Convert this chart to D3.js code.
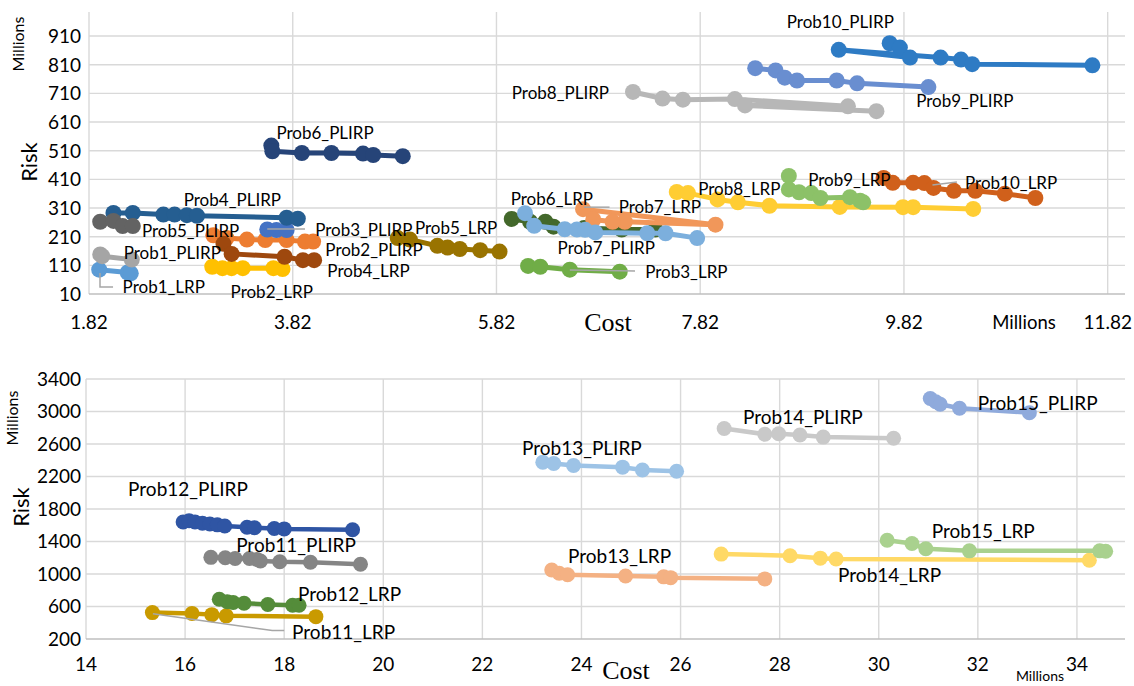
<!DOCTYPE html>
<html>
<head>
<meta charset="utf-8">
<script src="https://cdn.jsdelivr.net/npm/d3@7"></script>
<style>
  body { margin: 0; background: #fff; }
  svg { display: block; }
  text { font-family: Lato, "Liberation Sans", sans-serif; fill: #000; }
</style>
</head>
<body>
<svg id="chart" width="1134" height="686"></svg>
<script>
// ---------- top panel: (cost, risk) pairs, both in millions ----------
const prob1LRP    = [[1.92, 95], [2.20, 85], [2.23, 82]];
const prob1PLIRP  = [[1.93, 148], [1.95, 142], [2.24, 130]];
const prob2LRP    = [[3.03, 105], [3.13, 100], [3.22, 100], [3.33, 100], [3.63, 100], [3.72, 97]];
const prob2PLIRP  = [[3.04, 215], [3.17, 205], [3.37, 200], [3.55, 198], [3.76, 198], [3.94, 193], [4.02, 193]];
const prob3LRP    = [[6.13, 108], [6.25, 105], [6.54, 95], [7.03, 88]];
const prob3PLIRP  = [[3.57, 235], [3.66, 233], [3.76, 233]];
const prob4LRP    = [[3.14, 185], [3.22, 150], [3.74, 140], [3.92, 128], [4.03, 128]];
const prob4PLIRP  = [[2.06, 293], [2.25, 293], [2.55, 287], [2.66, 287], [2.78, 285], [2.88, 283], [3.76, 276], [3.87, 273]];
const prob5LRP    = [[4.85, 205], [4.97, 200], [5.24, 178], [5.34, 172], [5.46, 167], [5.66, 163], [5.85, 158]];
const prob5PLIRP  = [[1.93, 262], [2.06, 265], [2.15, 247], [2.25, 247]];
const prob6LRP    = [[5.97, 272], [6.15, 262], [6.30, 262], [6.38, 245], [6.68, 240], [7.05, 235], [7.38, 235]];
const prob6PLIRP  = [[3.61, 528], [3.62, 508], [3.91, 502], [4.20, 502], [4.51, 500], [4.61, 495], [4.90, 491]];
const prob7LRP    = [[6.67, 306], [7.97, 252], [7.08, 262], [6.96, 262], [6.77, 270]];
const prob7PLIRP  = [[6.10, 292], [6.19, 248], [6.49, 236], [6.61, 235], [6.69, 234], [6.79, 225], [7.30, 222], [7.48, 222], [7.79, 205]];
const prob8LRP    = [[7.59, 366], [7.70, 362], [7.99, 340], [8.19, 330], [8.50, 318], [9.19, 314], [9.81, 313], [9.91, 313], [10.50, 307]];
const prob8PLIRP  = [[7.16, 715], [7.45, 692], [7.65, 688], [8.16, 690], [9.27, 665], [8.26, 668], [9.55, 648]];
const prob9LRP    = [[8.69, 422], [8.69, 375], [8.79, 365], [8.91, 362], [9.00, 345], [9.29, 348], [9.39, 335], [9.42, 330]];
const prob9PLIRP  = [[8.36, 798], [8.56, 790], [8.65, 765], [8.77, 755], [9.16, 755], [9.36, 745], [10.06, 732]];
const prob10LRP   = [[9.62, 415], [9.71, 398], [9.91, 398], [10.02, 397], [10.11, 380], [10.31, 370], [10.52, 370], [10.81, 360], [11.11, 345]];
const prob10PLIRP = [[9.68, 885], [9.78, 870], [9.88, 835], [9.18, 862], [10.18, 835], [10.38, 828], [10.49, 812], [11.67, 808]];

// ---------- bottom panel ----------
const prob11LRP   = [[15.34, 525], [16.14, 515], [16.54, 500], [16.83, 485], [18.64, 475]];
const prob11PLIRP = [[16.52, 1205], [16.81, 1200], [17.01, 1190], [17.30, 1190], [17.45, 1180], [17.52, 1160], [17.91, 1150], [18.53, 1145], [19.54, 1120]];
const prob12LRP   = [[16.69, 690], [16.85, 660], [16.97, 650], [17.19, 640], [17.67, 625], [18.17, 615], [18.30, 615]];
const prob12PLIRP = [[15.96, 1640], [16.08, 1655], [16.20, 1640], [16.35, 1625], [16.50, 1615], [16.65, 1605], [16.80, 1590], [17.25, 1575], [17.40, 1570], [17.80, 1560], [18.00, 1555], [19.38, 1545]];
const prob13LRP   = [[23.40, 1050], [23.55, 1010], [23.72, 990], [24.89, 975], [25.66, 965], [25.80, 955], [27.70, 940]];
const prob13PLIRP = [[23.22, 2375], [23.44, 2360], [23.84, 2335], [24.83, 2315], [25.23, 2280], [25.92, 2265]];
const prob14LRP   = [[26.82, 1245], [28.21, 1225], [28.82, 1195], [29.14, 1185], [34.25, 1170]];
const prob14PLIRP = [[26.88, 2790], [27.70, 2720], [27.98, 2727], [28.41, 2711], [28.88, 2685], [30.30, 2670]];
const prob15LRP   = [[30.17, 1415], [30.67, 1375], [30.95, 1310], [31.83, 1285], [34.46, 1285], [34.58, 1280]];
const prob15PLIRP = [[31.04, 3160], [31.15, 3120], [31.24, 3090], [31.63, 3040], [33.04, 2985]];

// tick values
const topXTicks = [1.82, 3.82, 5.82, 7.82, 9.82, 11.82];
const topYTicks = [10, 110, 210, 310, 410, 510, 610, 710, 810, 910];
const botXTicks = [14, 16, 18, 20, 22, 24, 26, 28, 30, 32, 34];
const botYTicks = [200, 600, 1000, 1400, 1800, 2200, 2600, 3000, 3400];

// data labels: [text, cost, risk] (left edge of text, vertical middle)
const topLabels = [
    ["Prob1_LRP", 2.15, 34], ["Prob1_PLIRP", 2.16, 153], ["Prob2_LRP", 3.21, 17],
    ["Prob2_PLIRP", 4.14, 163], ["Prob3_PLIRP", 4.04, 233], ["Prob3_LRP", 7.28, 87],
    ["Prob4_PLIRP", 2.75, 338], ["Prob4_LRP", 4.16, 90], ["Prob5_PLIRP", 2.34, 230],
    ["Prob5_LRP", 5.02, 240], ["Prob6_PLIRP", 3.66, 572], ["Prob6_LRP", 5.96, 341],
    ["Prob7_PLIRP", 6.42, 170], ["Prob7_LRP", 7.02, 313], ["Prob8_PLIRP", 5.97, 711],
    ["Prob8_LRP", 7.80, 376], ["Prob9_PLIRP", 9.94, 683], ["Prob9_LRP", 8.88, 408],
    ["Prob10_PLIRP", 8.67, 959], ["Prob10_LRP", 10.42, 397]
];
const botLabels = [
    ["Prob12_PLIRP", 14.85, 2046], ["Prob11_PLIRP", 17.03, 1355], ["Prob12_LRP", 18.28, 750],
    ["Prob11_LRP", 18.16, 290], ["Prob13_PLIRP", 22.80, 2551], ["Prob14_PLIRP", 27.26, 2932],
    ["Prob15_PLIRP", 32.00, 3105], ["Prob13_LRP", 23.73, 1215], ["Prob15_LRP", 31.07, 1522],
    ["Prob14_LRP", 29.18, 983]
];

// leader lines from labels back to their series
const topLeaders = [
    [[1.928, 83], [1.928, 34], [2.056, 34]],
    [[3.57, 237], [3.94, 237]],
    [[6.54, 94], [7.18, 90]],
    [[6.68, 313], [6.93, 313]],
    [[10.10, 390], [10.34, 401]]
];
const botLeaders = [
    [[15.35, 512], [17.76, 305], [18.0, 305]]
];

const topSeries = [
    ["Prob1_LRP", prob1LRP, "#5B9BD5"], ["Prob1_PLIRP", prob1PLIRP, "#A5A5A5"],
    ["Prob2_LRP", prob2LRP, "#FFC000"], ["Prob2_PLIRP", prob2PLIRP, "#ED7D31"],
    ["Prob3_LRP", prob3LRP, "#70AD47"], ["Prob3_PLIRP", prob3PLIRP, "#4472C4"],
    ["Prob4_LRP", prob4LRP, "#9E480E"], ["Prob4_PLIRP", prob4PLIRP, "#255E91"],
    ["Prob5_LRP", prob5LRP, "#997300"], ["Prob5_PLIRP", prob5PLIRP, "#636363"],
    ["Prob6_LRP", prob6LRP, "#43682B"], ["Prob6_PLIRP", prob6PLIRP, "#264478"],
    ["Prob7_LRP", prob7LRP, "#F1975A"], ["Prob7_PLIRP", prob7PLIRP, "#7CAFDD"],
    ["Prob8_LRP", prob8LRP, "#FFCD33"], ["Prob8_PLIRP", prob8PLIRP, "#B7B7B7"],
    ["Prob9_LRP", prob9LRP, "#8CC168"], ["Prob9_PLIRP", prob9PLIRP, "#698ED0"],
    ["Prob10_LRP", prob10LRP, "#D0601B"], ["Prob10_PLIRP", prob10PLIRP, "#2E7BC4"]
];
const botSeries = [
    ["Prob11_LRP", prob11LRP, "#C99A00"], ["Prob11_PLIRP", prob11PLIRP, "#858585"],
    ["Prob12_LRP", prob12LRP, "#548C3A"], ["Prob12_PLIRP", prob12PLIRP, "#2F55A4"],
    ["Prob13_LRP", prob13LRP, "#F4B183"], ["Prob13_PLIRP", prob13PLIRP, "#9DC3E6"],
    ["Prob14_LRP", prob14LRP, "#FFD966"], ["Prob14_PLIRP", prob14PLIRP, "#C9C9C9"],
    ["Prob15_LRP", prob15LRP, "#A9D18E"], ["Prob15_PLIRP", prob15PLIRP, "#8FAADC"]
];

const svg = d3.select("#chart");

function drawPanel(p) {
    const g = svg.append("g");
    const x = p.x, y = p.y;
    const [x0, x1] = x.range();
    const [y0, y1] = y.range();

    // gridlines
    g.selectAll(".vgrid").data(p.xTicks.slice(1)).enter().append("line")
        .attr("x1", d => x(d)).attr("x2", d => x(d))
        .attr("y1", y1).attr("y2", y0)
        .style("stroke", "#D9D9D9").style("stroke-width", 1.4);
    g.selectAll(".hgrid").data(p.yTicks.slice(1)).enter().append("line")
        .attr("x1", x0).attr("x2", x1)
        .attr("y1", d => y(d)).attr("y2", d => y(d))
        .style("stroke", "#D9D9D9").style("stroke-width", 1.4);
    // axis lines
    g.append("line").attr("x1", x0).attr("x2", x0).attr("y1", y1).attr("y2", y0)
        .style("stroke", "#D9D9D9").style("stroke-width", 1.4);
    g.append("line").attr("x1", x0).attr("x2", x1).attr("y1", y0).attr("y2", y0)
        .style("stroke", "#BFBFBF").style("stroke-width", 1.6);

    // tick labels
    g.selectAll(".ytick").data(p.yTicks).enter().append("text")
        .attr("x", x0 - p.yLabelGap).attr("y", d => y(d)).attr("dy", "0.36em")
        .attr("text-anchor", "end").style("font-size", "19px")
        .text(d => d);
    g.selectAll(".xtick").data(p.xTicks).enter().append("text")
        .attr("x", d => x(d)).attr("y", p.xLabelY).attr("dy", "0.36em")
        .attr("text-anchor", "middle").style("font-size", "19px")
        .text(d => p.xFormat(d));

    // series
    const line = d3.line().x(d => x(d[0])).y(d => y(d[1]));
    p.series.forEach(([name, pts, color]) => {
        const s = g.append("g").attr("class", "series");
        s.append("path").datum(pts)
            .attr("d", line)
            .style("fill", "none").style("stroke", color)
            .style("stroke-width", p.lineWidth).style("stroke-linejoin", "round");
        s.selectAll("circle").data(pts).enter().append("circle")
            .attr("cx", d => x(d[0])).attr("cy", d => y(d[1]))
            .attr("r", p.radius).style("fill", color);
    });

    // leader lines
    const lead = d3.line().x(d => x(d[0])).y(d => y(d[1]));
    g.selectAll(".leader").data(p.leaders).enter().append("path")
        .attr("d", lead)
        .style("fill", "none").style("stroke", "#A6A6A6").style("stroke-width", 1.5);

    // data labels
    g.selectAll(".dlabel").data(p.labels).enter().append("text")
        .attr("x", d => x(d[1])).attr("y", d => y(d[2])).attr("dy", "0.36em")
        .style("font-size", p.labelSize)
        .text(d => d[0]);

    // titles
    g.append("text")
        .attr("transform", `translate(${p.riskPos[0]},${p.riskPos[1]}) rotate(-90)`)
        .attr("text-anchor", "middle").attr("dy", "0.36em")
        .style("font-size", "22px").text("Risk");
    g.append("text")
        .attr("transform", `translate(${p.millionsYPos[0]},${p.millionsYPos[1]}) rotate(-90)`)
        .attr("text-anchor", "middle").attr("dy", "0.36em")
        .style("font-size", "16px").text("Millions");
    g.append("text")
        .attr("x", p.costPos[0]).attr("y", p.costPos[1]).attr("dy", "0.36em")
        .attr("text-anchor", "middle")
        .style("font-family", "'Liberation Serif', 'Times New Roman', serif")
        .style("font-size", "26px").text("Cost");
    g.append("text")
        .attr("x", p.millionsXPos[0]).attr("y", p.millionsXPos[1]).attr("dy", "0.36em")
        .attr("text-anchor", "middle")
        .style("font-size", p.millionsXSize).text("Millions");
}

drawPanel({
    x: d3.scaleLinear().domain([1.82, 11.99]).range([89, 1125]),
    y: d3.scaleLinear().domain([10, 994]).range([294, 12]),
    xTicks: topXTicks, yTicks: topYTicks,
    xFormat: d => d.toFixed(2),
    yLabelGap: 8, xLabelY: 322,
    series: topSeries, labels: topLabels, leaders: topLeaders,
    lineWidth: 5, radius: 8, labelSize: "17px",
    riskPos: [29, 162], millionsYPos: [18, 44],
    costPos: [608, 322], millionsXPos: [1024, 322], millionsXSize: "18.5px"
});

drawPanel({
    x: d3.scaleLinear().domain([14, 34.97]).range([86, 1125]),
    y: d3.scaleLinear().domain([200, 3400]).range([639, 379]),
    xTicks: botXTicks, yTicks: botYTicks,
    xFormat: d => d,
    yLabelGap: 5, xLabelY: 664,
    series: botSeries, labels: botLabels, leaders: botLeaders,
    lineWidth: 4.5, radius: 7.5, labelSize: "19px",
    riskPos: [21, 507], millionsYPos: [12, 418],
    costPos: [626, 670], millionsXPos: [1040, 676], millionsXSize: "14px"
});
</script>
</body>
</html>
